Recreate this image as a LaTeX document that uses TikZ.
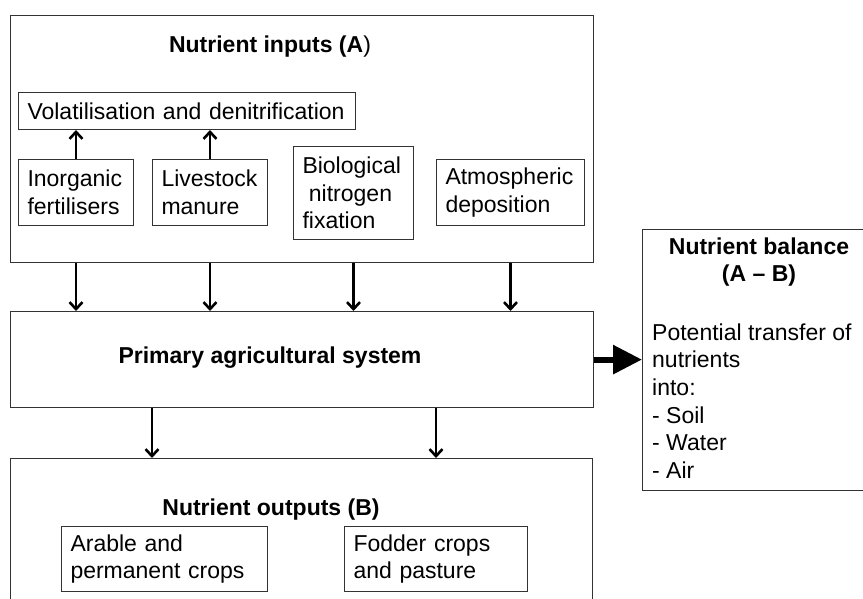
\documentclass[tikz,border=0pt]{standalone}
\usepackage{fontspec}
\setmainfont{Liberation Sans}
\usetikzlibrary{arrows.meta}

\begin{document}
\begin{tikzpicture}[x=1pt, y=-1pt,
                    font=\fontsize{23}{27.6}\selectfont,
                    frame/.style={draw=black!80, line width=1.2pt, anchor=north west, inner sep=0pt},
                    item/.style={draw=black!80, line width=1pt, anchor=north west, align=left, inner xsep=9pt, inner ysep=0pt},
                    heading/.style={font=\fontsize{23}{27.6}\selectfont\bfseries, inner sep=0pt},
                    flow/.style={-{Straight Barb[length=7pt, width=13pt, line width=2.6pt]}, line width=2.8pt},
                    bigflow/.style={-{Triangle[length=29pt, width=28pt]}, line width=6pt}]
                    \useasboundingbox (0,0) rectangle (863,598);

                    \node[frame, minimum width=583pt, minimum height=247pt] (inputs) at (10,15) {};
                    \node[heading] (inputstitle) at (270,47) {Nutrient inputs (A\textmd{)}};
                    \node[item, text width=319pt, minimum height=37pt] (volat) at (18,92) {Volatilisation and denitrification};
                    \node[item, text width=97pt, minimum height=66pt] (inorg) at (18,159) {Inorganic\\fertilisers};
                    \node[item, text width=97pt, minimum height=66pt] (stock) at (152,159) {Livestock\\manure};
                    \node[item, text width=102pt, minimum height=93pt] (fix) at (293,146) {Biological\\\hspace*{0.28em}nitrogen\\fixation};
                    \node[item, text width=130pt, minimum height=66pt] (depo) at (436,159) {Atmospheric\\deposition};

                    \node[frame, minimum width=583pt, minimum height=96pt] (system) at (10,311) {};
                    \node[heading] (systemtext) at (270,358) {Primary agricultural system};

                    \node[frame, minimum width=582pt, minimum height=200pt] (outputs) at (10,458) {};
                    \node[heading] (outputstitle) at (271,510) {Nutrient outputs (B)};
                    \node[item, text width=188pt, minimum height=65pt] (arable) at (61,526) {Arable and\\permanent crops};
                    \node[item, text width=165pt, minimum height=65pt] (fodder) at (344,526) {Fodder crops\\and pasture};
                    \coordinate (outleft) at (152,458);

                    \node[frame, minimum width=236pt, minimum height=261pt] (balance) at (642,229) {};
                    \node[heading, align=center] (balancetitle) at (759,262) {Nutrient balance\\(A -- B)};
                    \node[anchor=west, align=left, inner sep=0pt] (transfer) at (652,401) {Potential transfer of\\nutrients\\into:\\- Soil\\- Water\\- Air};

                    \draw[flow] (inorg.north) -- (volat.south -| inorg.north);
                    \draw[flow] (stock.north) -- (volat.south -| stock.north);
                    \foreach \n in {inorg, stock, fix, depo}
                        \draw[flow] (inputs.south -| \n.north) -- (system.north -| \n.north);
                    \draw[flow] (system.south -| outleft) -- (outputs.north -| outleft);
                    \draw[flow] (system.south -| fodder.north) -- (outputs.north -| fodder.north);
                    \draw[bigflow] (system.east) -- (balance.west |- system.east);
                \end{tikzpicture}
\end{document}
